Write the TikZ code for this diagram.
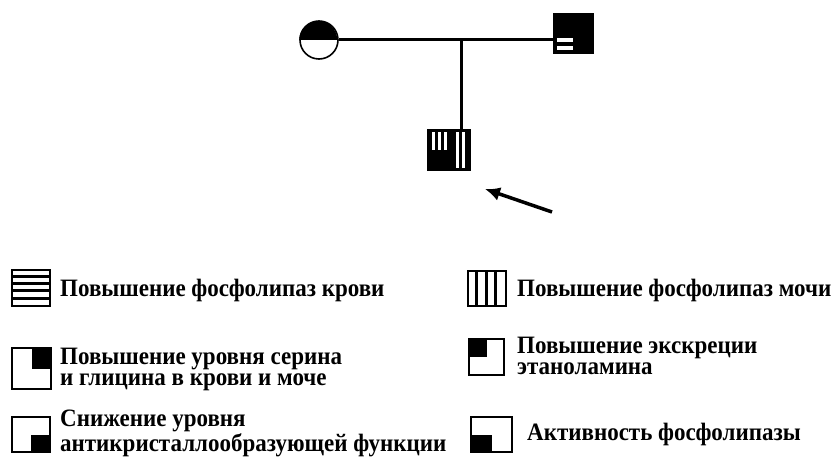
\documentclass[tikz,border=0pt]{standalone}
\usepackage{fontspec}
\setmainfont{Liberation Serif}[FakeStretch=0.92]
\usetikzlibrary{arrows.meta}

\tikzset{
    indiv/.style={draw, line width=1.6pt, inner sep=0pt},
    keybox/.style={draw, line width=1.6pt, inner sep=0pt},
    keytext/.style={font=\bfseries\fontsize{25}{20.5}\selectfont, inner sep=0pt, align=left, anchor=base west}
}

\begin{document}
\begin{tikzpicture}[x=1pt, y=-1pt]
        \useasboundingbox (0,0) rectangle (837,457);
        \begin{scope}
            \node[indiv, circle, minimum size=38pt] (mother) at (319,40) {};
            \fill (mother.west) arc[start angle=180, end angle=0, radius=19pt] -- cycle;
            \node[indiv, fill=black, minimum width=39pt, minimum height=39pt] (father) at (573.5,33.5) {};
            \begin{scope}[shift={(father.center)}]
                \fill[white] (-16.5,4.5) rectangle (-0.5,8.5);
                \fill[white] (-16.5,12.5) rectangle (-0.5,16.5);
            \end{scope}
            \node[indiv, fill=black, minimum width=42pt, minimum height=40pt] (child) at (449,150) {};
            \begin{scope}[shift={(child.center)}]
                \foreach \x in {-16.7,-10.7,-4.7,7.3,13.3}
                    \fill[white] (\x,-18) rectangle (\x+3,18);
            \end{scope}
            \fill (child.south west) rectangle (child.center);
            \draw[line width=3pt] (mother.east) -- coordinate[pos=0.574] (mid) (mother.east -| father.west);
            \draw[line width=3pt] (mid) -- (mid |- child.north);
            \coordinate (ptr) at (552,212);
            \coordinate (ptrtip) at (485,189);
            \draw[-{Latex[length=15pt,width=14pt]}, line width=3.5pt] (ptr) -- (ptrtip);
        \end{scope}
        \begin{scope}
            \node[keybox, minimum width=38pt, minimum height=36pt] (bloodkey) at (31,288) {};
            \foreach \k in {1,...,4}
                \draw[line width=3pt] ([yshift=-\k*7.2pt]bloodkey.north west) -- ([yshift=-\k*7.2pt]bloodkey.north east);
            \node[keytext] (bloodtxt) at (60,296) {Повышение фосфолипаз крови};

            \node[keybox, minimum width=38pt, minimum height=35pt] (urinekey) at (487,288.5) {};
            \foreach \k in {1,...,3}
                \draw[line width=3pt] ([xshift=\k*9.5pt]urinekey.north west) -- ([xshift=\k*9.5pt]urinekey.south west);
            \node[keytext] (urinetxt) at (517,296) {Повышение фосфолипаз мочи};

            \node[keybox, minimum width=39pt, minimum height=41pt] (aminokey) at (31.5,368.5) {};
            \fill (aminokey.north east) rectangle (aminokey.center);
            \node[keytext] (aminotxt) at (60,385) {Повышение уровня серина\\и глицина в крови и моче};

            \node[keybox, minimum width=35pt, minimum height=36pt] (ethanolkey) at (486.5,357) {};
            \fill (ethanolkey.north west) rectangle (ethanolkey.center);
            \node[keytext] (ethanoltxt) at (517,374) {Повышение экскреции\\этаноламина};

            \node[keybox, minimum width=38pt, minimum height=35pt] (crystkey) at (31,434.5) {};
            \fill (crystkey.south east) rectangle (crystkey.center);
            \node[keytext] (crysttxt) at (60,451) {Снижение уровня\\антикристаллообразующей функции};

            \node[keybox, minimum width=41pt, minimum height=35pt] (enzymekey) at (491.5,434.5) {};
            \fill (enzymekey.south west) rectangle (enzymekey.center);
            \node[keytext] (enzymetxt) at (527,440) {Активность фосфолипазы};
        \end{scope}
    \end{tikzpicture}
\end{document}
